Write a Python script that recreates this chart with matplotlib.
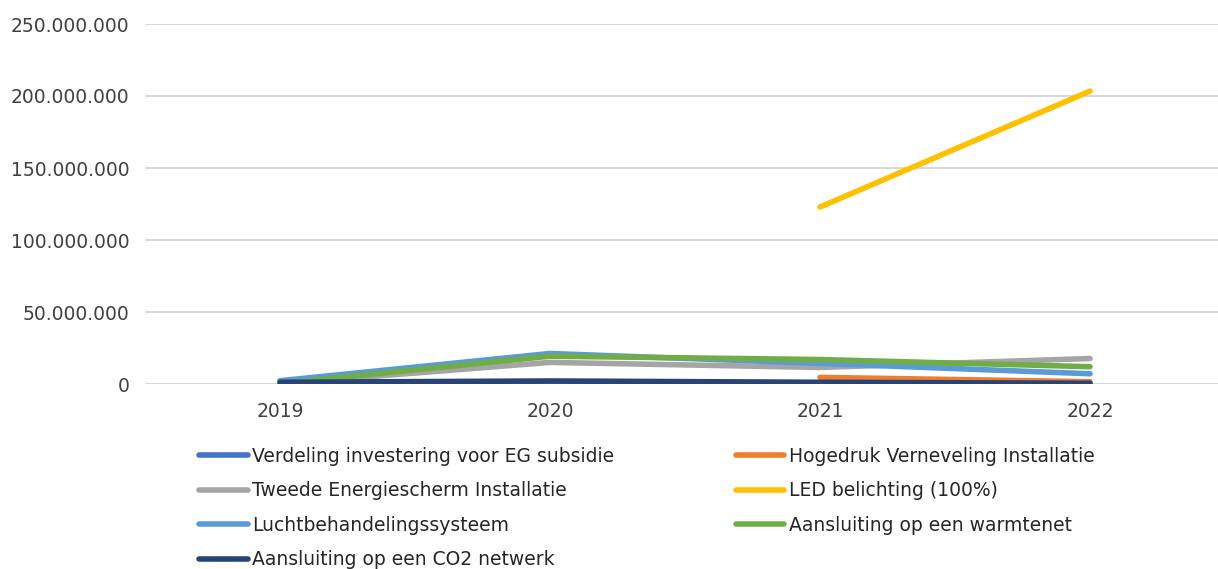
import numpy as np
import matplotlib
matplotlib.use("Agg")
import matplotlib.pyplot as plt
from matplotlib.ticker import FuncFormatter

years = ["2019", "2020", "2021", "2022"]

# values in euro (None = no value that year)
verdeling = [300000, 400000, 300000, 200000]
hogedruk = [None, None, 4600000, 1600000]
tweede = [200000, 15000000, 11500000, 17700000]
led = [None, None, 122900000, 203400000]
lucht = [2300000, 21200000, 14300000, 7100000]
warmtenet = [300000, 19300000, 17000000, 12000000]
co2 = [1200000, 2100000, 1200000, 500000]

labels = [
    "Verdeling investering voor EG subsidie",
    "Hogedruk Verneveling Installatie",
    "Tweede Energiescherm Installatie",
    "LED belichting (100%)",
    "Luchtbehandelingssysteem",
    "Aansluiting op een warmtenet",
    "Aansluiting op een CO2 netwerk",
]
series = [verdeling, hogedruk, tweede, led, lucht, warmtenet, co2]
colors = ["#4472c4", "#ed7d31", "#a5a5a5", "#ffc000", "#5b9bd5", "#70ad47", "#264478"]


def to_array(vals):
    return np.array([np.nan if v is None else v for v in vals], dtype=float)


def thousands(v, pos):
    return f"{int(v):,}".replace(",", ".")


plt.rcParams["font.family"] = ["DejaVu Sans"]
fig = plt.figure(figsize=(12.18, 5.69), dpi=100)
ax = fig.add_axes([145 / 1218, 185 / 569, 1080 / 1218, 360 / 569])

x = np.arange(len(years))
handles = []
for vals, lab, col in zip(series, labels, colors):
    h, = ax.plot(x, to_array(vals), color=col, lw=4, label=lab,
                 solid_capstyle="round", zorder=3)
    handles.append(h)

ax.set_xlim(-0.5, 3.5)
ax.set_ylim(0, 250000000)
ax.set_yticks(np.arange(0, 250000001, 50000000))
ax.yaxis.set_major_formatter(FuncFormatter(thousands))
ax.set_xticks(x)
ax.set_xticklabels(years)
ax.grid(axis="y", color="#d9d9d9", lw=1.5)
ax.set_axisbelow(True)
for s in ax.spines.values():
    s.set_visible(False)
ax.tick_params(length=0, labelsize=13.5, labelcolor="#404040")
ax.tick_params(axis="y", pad=11)
ax.tick_params(axis="x", pad=13)

# legend goes row by row in the original, matplotlib fills by column
order = [0, 2, 4, 6, 1, 3, 5]
fig.legend([handles[i] for i in order], [labels[i] for i in order],
           ncol=2, loc="upper left", bbox_to_anchor=(199 / 1218, 1 - 447 / 569),
           frameon=False, fontsize=13.5, handlelength=2.6, handletextpad=0.25,
           columnspacing=6.45, labelspacing=0.82, borderaxespad=0, borderpad=0,
           labelcolor="#262626")

fig.savefig("out.png", dpi=100)
